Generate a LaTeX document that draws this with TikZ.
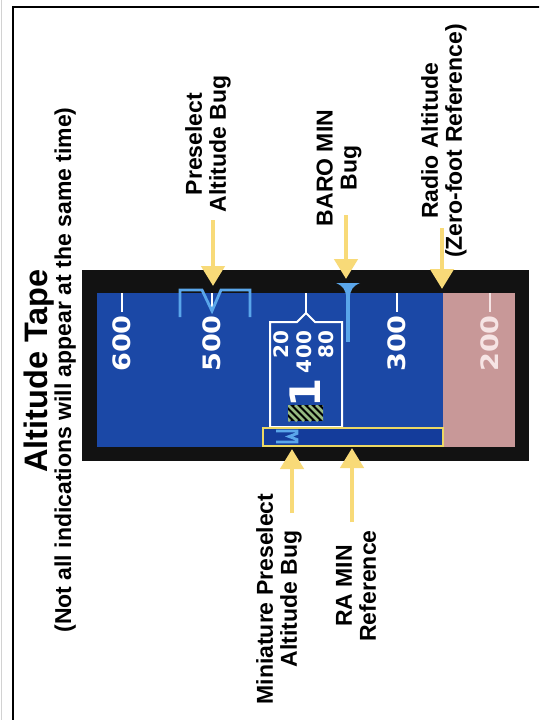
\documentclass[tikz,border=0pt]{standalone}
\usepackage{fontspec}
\setmainfont{Liberation Sans}
\newfontfamily\digfont{DejaVu Sans}
\usetikzlibrary{arrows.meta}
\definecolor{tapeblue}{RGB}{27,72,166}
\definecolor{ramblue}{RGB}{20,60,155}
\definecolor{rapink}{RGB}{200,152,152}
\definecolor{pinktext}{RGB}{246,228,228}
\definecolor{bugblue}{RGB}{90,166,234}
\definecolor{arrowyel}{RGB}{248,218,120}
\definecolor{rayel}{RGB}{236,216,100}
\definecolor{hatchgreen}{RGB}{150,185,130}
\definecolor{bezel}{RGB}{18,18,18}
\begin{document}
\begin{tikzpicture}[x=1pt,y=-1pt,
  lbl/.style={rotate=90, align=center, font=\fontsize{23}{24}\selectfont\bfseries, inner sep=0pt, text=black},
  tickline/.style={draw=white, line width=2.2pt},
  ticklbl/.style={rotate=90, anchor=base, inner sep=0pt, font=\digfont\fontsize{24}{24}\selectfont\bfseries, text=white},
  drum/.style={rotate=90, anchor=base east, inner sep=0pt, font=\digfont\fontsize{20}{20}\selectfont\bfseries, text=white},
  callout/.style={draw=arrowyel, line width=4.5pt, -{Triangle[width=23pt,length=20pt]}},
  bugline/.style={draw=bugblue, line width=2.8pt, line join=miter},
]
\useasboundingbox (0,0) rectangle (539,720);
\clip (0,0) rectangle (539,720);
\fill[white] (0,0) rectangle (539,720);
% scan edge and frame
\draw[gray!35, line width=1pt] (1,0) -- (1,720);
\draw[line width=1.3pt] (13,730) -- (13,7) -- (550,7);

% titles
\node[rotate=90, anchor=base, inner sep=0pt, font=\fontsize{32.5}{34}\selectfont\bfseries] (title) at (47,371) {Altitude Tape};
\node[rotate=90, anchor=base, inner sep=0pt, font=\fontsize{23}{24}\selectfont\bfseries] (subtitle) at (71,370) {(Not all indications will appear at the same time)};

% bezel and tape
\fill[bezel] (82,270) rectangle (529,461);
\fill[tapeblue] (97,293) rectangle (443,447);
\fill[rapink] (443,293) rectangle (515,447);

% scale ticks and numbers
\draw[tickline] (122,293) -- (122,312);
\node[ticklbl] (n600) at (130,343.5) {\scalebox{1.13}[1]{600}};
\draw[tickline] (212,293) -- (212,312);
\node[ticklbl] (n500) at (220.5,343.5) {\scalebox{1.13}[1]{500}};
\draw[tickline] (397,293) -- (397,312);
\node[ticklbl] (n300) at (405.5,343.5) {\scalebox{1.13}[1]{300}};
\draw[tickline, draw=pinktext] (490,293) -- (490,312);
\node[ticklbl, text=pinktext] (n200) at (498.5,343.5) {\scalebox{1.13}[1]{200}};

% preselect altitude bug
\draw[bugline] (180,317) -- (180,290) -- (202,290) -- (212,311) -- (221,290) -- (250,290) -- (250,317);
\coordinate (preTip) at (213,286);

% baro min bug
\fill[bugblue] (336,283) .. controls (343,286) and (346,290) .. (346.2,298) -- (349.8,298) .. controls (350,290) and (353,286) .. (360,283) -- cycle;
\draw[bugblue, line width=3.5pt] (348,294) -- (348,342);
\coordinate (baroTip) at (346,279);

% radio altitude zero reference
\coordinate (radTip) at (442,289);

% altitude readout box
\draw[white, line width=2pt, fill=tapeblue] (270,427) -- (270,322) -- (297,322) -- (306,313) -- (315,322) -- (342,322) -- (342,427) -- cycle;
\draw[white, line width=2pt] (306,313) -- (306,293);
\node[drum] (d20) at (288,330) {20};
\node[drum] (d400) at (311,330) {4\kern2pt00};
\node[drum] (d80) at (333,330) {80};
\node[rotate=90, anchor=base, inner sep=0pt, font=\digfont\fontsize{42}{42}\selectfont\bfseries, text=white] (d1) at (320,392.5) {1};
\begin{scope}
  \clip (288,405) rectangle (323,421);
  \fill[black] (288,405) rectangle (323,421);
  \foreach \s in {-21,-14,...,35} \draw[hatchgreen, line width=2.6pt] ({288+\s},405) -- ({304+\s},421);
\end{scope}

% RA MIN reference
\draw[rayel, line width=2pt, fill=ramblue] (263,428) rectangle (443,446);
\coordinate (raTip) at (352,448);

% miniature preselect bug
\draw[bugline] (276,431) -- (297,431) -- (297,433.5) -- (289,436.5) -- (297,439.5) -- (297,442) -- (276,442);
\coordinate (miniTip) at (292,449);

% labels
\node[lbl] (preLbl) at (208,144) {Preselect\\Altitude Bug};
\node[lbl] (baroLbl) at (339,168) {BARO MIN\\Bug};
\node[lbl] (radLbl) at (444,141) {Radio Altitude\\(Zero-foot Reference)};
\node[lbl] (miniLbl) at (279,599) {Miniature Preselect\\Altitude Bug};
\node[lbl] (raLbl) at (356,586) {RA MIN\\Reference};

\coordinate (preTail) at (213,220);
\coordinate (baroTail) at (346,215);
\coordinate (radTail) at (442,228);
\coordinate (miniTail) at (292,513);
\coordinate (raTail) at (352,522);

\draw[callout] (preTail) -- (preTip);
\draw[callout] (baroTail) -- (baroTip);
\draw[callout] (radTail) -- (radTip);
\draw[callout] (miniTail) -- (miniTip);
\draw[callout] (raTail) -- (raTip);
\end{tikzpicture}
\end{document}
